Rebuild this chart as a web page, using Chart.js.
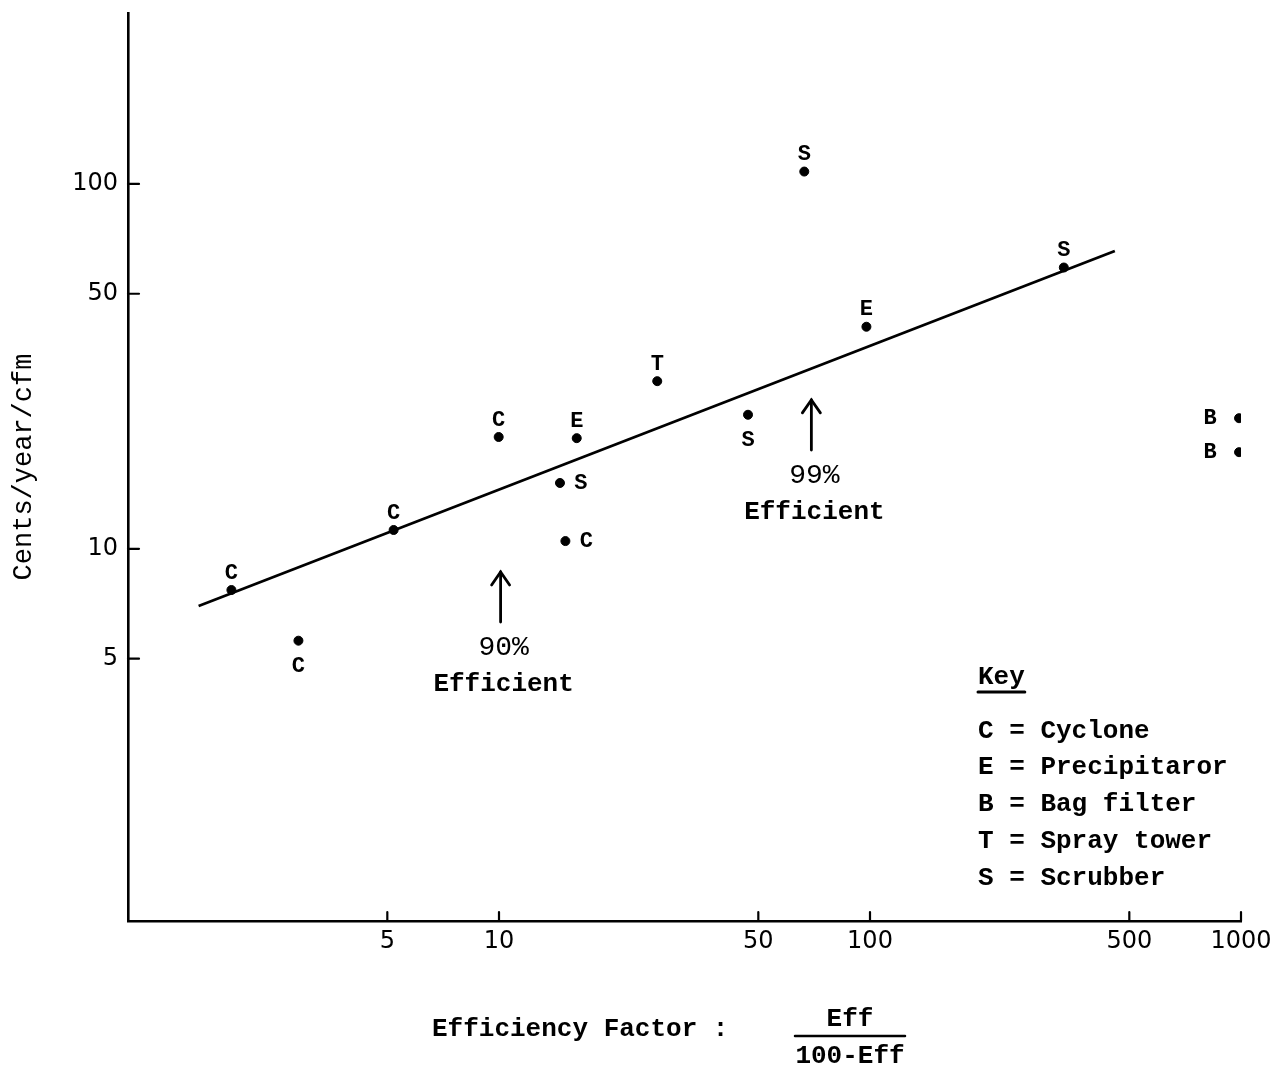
<!DOCTYPE html>
<html>
<head>
<meta charset="utf-8">
<script src="https://cdn.jsdelivr.net/npm/chart.js@4.4.0/dist/chart.umd.min.js"></script>
<style>
html,body{margin:0;padding:0;background:#fff;}
#wrap{width:1281px;height:1067px;position:relative;}
</style>
</head>
<body>
<div id="wrap"><canvas id="c"></canvas></div>
<script>
// ---- data ----
const deviceTypes = ['C','C','C','C','E','S','C','T','S','S','E','S','B','B'];
const efficiencyFactor = [1.90, 2.88, 5.20, 9.98, 16.2, 14.6, 15.1, 26.7, 46.9, 66.5, 97.8, 333, 988, 988];
const centsPerYearCfm = [7.71, 5.60, 11.26, 20.25, 20.1, 15.15, 10.5, 28.8, 23.3, 108.1, 40.6, 59.0, 22.8, 18.4];
const labelSide = ['above','below','above','above','above','right','right','above','below','above','above','above','left','left'];

const fitLineX = [1.55, 457];
const fitLineY = [6.97, 65.5];

const xTickValues = [5, 10, 50, 100, 500, 1000];
const yTickValues = [5, 10, 50, 100];

const arrowX = [10.1, 69.5];
const arrowTip = [8.64, 25.6];
const arrowBase = [6.30, 18.65];
const arrowText = [['90%', 'Efficient'], ['99%', 'Efficient']];

const keyTitle = 'Key';
const keyEntries = ['C = Cyclone', 'E = Precipitaror', 'B = Bag filter', 'T = Spray tower', 'S = Scrubber'];

const xTitleText = 'Efficiency Factor :';
const fracTop = 'Eff';
const fracBottom = '100-Eff';
const yTitleText = 'Cents/year/cfm';

// ---- styling ----
const TYPE = '"Liberation Mono", "DejaVu Sans Mono", monospace';
const TICKFONT = '"DejaVu Sans", sans-serif';

const overlay = {
  id: 'overlay',
  afterDraw(chart) {
    const ctx = chart.ctx;
    const xs = chart.scales.x, ys = chart.scales.y;
    const area = chart.chartArea;
    ctx.save();
    ctx.strokeStyle = '#000';
    ctx.fillStyle = '#000';
    ctx.lineCap = 'round';

    // inward tick marks
    ctx.lineWidth = 2.2;
    yTickValues.forEach(v => {
      const py = ys.getPixelForValue(v);
      ctx.beginPath(); ctx.moveTo(area.left, py); ctx.lineTo(area.left + 11, py); ctx.stroke();
    });
    xTickValues.forEach(v => {
      const px = xs.getPixelForValue(v);
      ctx.beginPath(); ctx.moveTo(px, area.bottom); ctx.lineTo(px, area.bottom - 9); ctx.stroke();
    });

    // point labels
    ctx.font = 'bold 22px ' + TYPE;
    ctx.textAlign = 'center';
    ctx.textBaseline = 'middle';
    const meta = chart.getDatasetMeta(0);
    meta.data.forEach((el, i) => {
      let dx = 0, dy = 0;
      const s = labelSide[i];
      if (s === 'above') dy = -17;
      else if (s === 'below') dy = 26;
      else if (s === 'right') dx = 21;
      else if (s === 'left') dx = -29;
      ctx.fillText(deviceTypes[i], el.x + dx, el.y + dy);
    });

    // arrows with annotations
    arrowX.forEach((v, i) => {
      const px = xs.getPixelForValue(v);
      const tip = ys.getPixelForValue(arrowTip[i]);
      const base = ys.getPixelForValue(arrowBase[i]);
      ctx.lineWidth = 2.8;
      ctx.beginPath(); ctx.moveTo(px, base); ctx.lineTo(px, tip); ctx.stroke();
      ctx.beginPath(); ctx.moveTo(px - 9, tip + 13); ctx.lineTo(px, tip); ctx.lineTo(px + 9, tip + 13); ctx.stroke();
      ctx.font = '28px ' + TYPE;
      ctx.fillText(arrowText[i][0], px + 3, base + 26);
      ctx.font = 'bold 26px ' + TYPE;
      ctx.fillText(arrowText[i][1], px + 3, base + 62);
    });

    // key
    ctx.textAlign = 'left';
    ctx.font = 'bold 26px ' + TYPE;
    const kx = 978;
    ctx.fillText(keyTitle, kx, 677);
    const kw = ctx.measureText(keyTitle).width;
    ctx.lineWidth = 3;
    ctx.beginPath(); ctx.moveTo(kx, 692); ctx.lineTo(kx + kw, 692); ctx.stroke();
    keyEntries.forEach((t, i) => ctx.fillText(t, kx, 731 + i * 36.8));

    // x axis title with fraction
    ctx.fillText(xTitleText, 432, 1029);
    ctx.textAlign = 'center';
    const fx = 850;
    ctx.fillText(fracTop, fx, 1019);
    ctx.fillText(fracBottom, fx, 1056);
    ctx.lineWidth = 2.5;
    ctx.beginPath(); ctx.moveTo(fx - 55, 1036); ctx.lineTo(fx + 55, 1036); ctx.stroke();

    ctx.restore();
  }
};

const chart = new Chart(document.getElementById('c'), {
  type: 'scatter',
  data: {
    datasets: [
      {
        label: 'Devices',
        data: efficiencyFactor.map((x, i) => ({ x: x, y: centsPerYearCfm[i] })),
        backgroundColor: '#000',
        borderColor: '#000',
        pointRadius: 4.5,
        pointHoverRadius: 4.5
      },
      {
        type: 'line',
        label: 'Fit',
        data: fitLineX.map((x, i) => ({ x: x, y: fitLineY[i] })),
        borderColor: '#000',
        borderWidth: 2.8,
        pointRadius: 0,
        fill: false,
        showLine: true
      }
    ]
  },
  options: {
    responsive: true,
    maintainAspectRatio: false,
    animation: false,
    devicePixelRatio: 1,
    layout: { padding: { top: 13, right: 40, left: 0, bottom: 0 } },
    plugins: { legend: { display: false }, tooltip: { enabled: false }, title: { display: false } },
    scales: {
      x: {
        type: 'logarithmic',
        position: 'bottom',
        min: 1,
        max: 1000,
        afterBuildTicks: s => { s.ticks = xTickValues.map(v => ({ value: v })); },
        afterFit: s => { s.height = 146; s.paddingLeft = 0; s.paddingRight = 0; },
        grid: { display: true, drawOnChartArea: false, drawTicks: false },
        border: { display: true, color: '#000', width: 2.6 },
        ticks: {
          autoSkip: false, maxRotation: 0, padding: 6, color: '#000',
          font: { family: TICKFONT, size: 24 },
          callback: v => String(v)
        }
      },
      y: {
        type: 'logarithmic',
        position: 'left',
        min: 0.955,
        max: 294,
        afterBuildTicks: s => { s.ticks = yTickValues.map(v => ({ value: v })); },
        afterFit: s => { s.width = 128; s.paddingTop = 0; s.paddingBottom = 0; },
        grid: { display: true, drawOnChartArea: false, drawTicks: false },
        border: { display: true, color: '#000', width: 2.6 },
        ticks: {
          autoSkip: false, padding: 10, color: '#000',
          font: { family: TICKFONT, size: 24 },
          callback: v => String(v)
        },
        title: {
          display: true, text: yTitleText, color: '#000',
          font: { family: TYPE, size: 27 },
          padding: { top: 8, bottom: 0 }
        }
      }
    }
  },
  plugins: [overlay]
});
</script>
</body>
</html>
